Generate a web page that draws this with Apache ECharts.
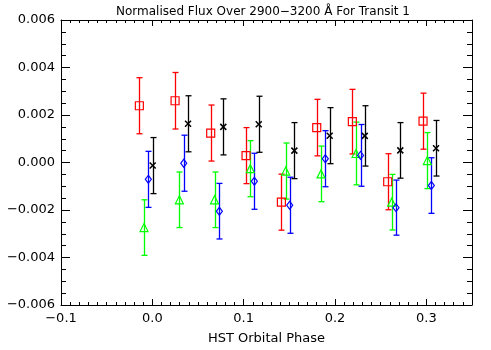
<!DOCTYPE html>
<html>
<head>
<meta charset="utf-8">
<script src="https://cdn.jsdelivr.net/npm/echarts@6/dist/echarts.min.js"></script>
<style>
    html, body { margin: 0; padding: 0; background: #fff; }
    #chart { width: 491px; height: 350px; }
</style>
</head>
<body>
<div id="chart"></div>
<script>
// transit 1 points
var phaseRed = [-0.0142, 0.0249, 0.0639, 0.1026, 0.1413, 0.1800, 0.2190, 0.2577, 0.2964];
var fluxRed = [0.00239, 0.00260, 0.00124, 0.00029, -0.00167, 0.00147, 0.00172, -0.00081, 0.00174];
var errRed = [0.00118, 0.00119, 0.00118, 0.00118, 0.00118, 0.00119, 0.00136, 0.00118, 0.00118];

var phaseGreen = [-0.0091, 0.0296, 0.0681, 0.1073, 0.1460, 0.1847, 0.2230, 0.2621, 0.3011];
var fluxGreen = [-0.00274, -0.00157, -0.00157, -0.00026, -0.00036, -0.00048, 0.00038, -0.00167, 0.00008];
var errGreen = [0.00117, 0.00117, 0.00117, 0.00118, 0.00118, 0.00117, 0.00132, 0.00117, 0.00118];

var phaseBlue = [-0.0044, 0.0344, 0.0734, 0.1117, 0.1504, 0.1894, 0.2280, 0.2668, 0.3055];
var fluxBlue = [-0.00071, -0.00003, -0.00205, -0.00079, -0.00180, 0.00016, 0.00030, -0.00190, -0.00097];
var errBlue = [0.00118, 0.00118, 0.00117, 0.00118, 0.00118, 0.00118, 0.00130, 0.00116, 0.00117];

var phaseBlack = [0.0004, 0.0391, 0.0777, 0.1165, 0.1555, 0.1942, 0.2326, 0.2715, 0.3106];
var fluxBlack = [-0.00013, 0.00163, 0.00150, 0.00161, 0.00050, 0.00113, 0.00112, 0.00051, 0.00060];
var errBlack = [0.00118, 0.00118, 0.00118, 0.00118, 0.00118, 0.00118, 0.00127, 0.00117, 0.00117];

var xTicks = [-0.1, 0.0, 0.1, 0.2, 0.3];
var yTicks = [-0.006, -0.004, -0.002, 0.000, 0.002, 0.004, 0.006];

var FONT = 'DejaVu Sans';

function zip(xs, ys, es) {
    var out = [];
    for (var i = 0; i < xs.length; i++) {
        out.push([xs[i], ys[i], es[i]]);
    }
    return out;
}

function fmtX(v) {
    for (var i = 0; i < xTicks.length; i++) {
        if (Math.abs(v - xTicks[i]) < 1e-6) {
            return xTicks[i].toFixed(1).replace('-', '\u2212');
        }
    }
    return '';
}

function fmtY(v) {
    for (var i = 0; i < yTicks.length; i++) {
        if (Math.abs(v - yTicks[i]) < 1e-7) {
            return yTicks[i].toFixed(3).replace('-', '\u2212');
        }
    }
    return '';
}

// vertical bar with small caps
function errorBars(color, data) {
    return {
        type: 'custom',
        xAxisIndex: 0,
        yAxisIndex: 0,
        data: data,
        z: 2,
        itemStyle: { color: color },
        renderItem: function (params, api) {
            var x = api.value(0), y = api.value(1), e = api.value(2);
            var lo = api.coord([x, y - e]);
            var hi = api.coord([x, y + e]);
            var cx = Math.round(lo[0]) + 0.5;
            var cap = 3;
            var style = { stroke: color, lineWidth: 1.3 };
            return {
                type: 'group',
                children: [
                    { type: 'line', shape: { x1: cx, y1: lo[1], x2: cx, y2: hi[1] }, style: style },
                    { type: 'line', shape: { x1: cx - cap, y1: lo[1], x2: cx + cap, y2: lo[1] }, style: style },
                    { type: 'line', shape: { x1: cx - cap, y1: hi[1], x2: cx + cap, y2: hi[1] }, style: style }
                ]
            };
        }
    };
}

function marks(color, data, symbol, size, width) {
    return {
        type: 'scatter',
        xAxisIndex: 0,
        yAxisIndex: 0,
        data: data,
        symbol: symbol,
        symbolSize: size,
        z: 3,
        itemStyle: { color: 'rgba(0,0,0,0)', borderColor: color, borderWidth: width, opacity: 1 },
        emphasis: { disabled: true }
    };
}

function xAxisOf(pos, interval, tickLen, showLabel, showLine) {
    return {
        type: 'value',
        position: pos,
        min: -0.1,
        max: 0.35,
        interval: interval,
        axisLine: { show: showLine, onZero: false, lineStyle: { color: '#000', width: 1 } },
        axisTick: { show: true, inside: true, length: tickLen, lineStyle: { color: '#000' } },
        axisLabel: { show: showLabel, formatter: fmtX, color: '#000', fontFamily: FONT, fontSize: 13, margin: 7 },
        splitLine: { show: false },
        name: showLabel ? 'HST Orbital Phase' : '',
        nameLocation: 'middle',
        nameGap: 27,
        nameTextStyle: { color: '#000', fontFamily: FONT, fontSize: 13 }
    };
}

function yAxisOf(pos, showLabel) {
    return {
        type: 'value',
        position: pos,
        min: -0.006,
        max: 0.006,
        interval: 0.002,
        axisLine: { show: true, onZero: false, lineStyle: { color: '#000', width: 1 } },
        axisTick: { show: true, inside: true, length: 9, lineStyle: { color: '#000' } },
        minorTick: { show: true, splitNumber: 4, length: 5, lineStyle: { color: '#000' } },
        axisLabel: { show: showLabel, formatter: fmtY, color: '#000', fontFamily: FONT, fontSize: 13, margin: 6 },
        splitLine: { show: false },
        minorSplitLine: { show: false }
    };
}

var cross = 'path://M0,0L10,10M10,0L0,10';

var myChart = echarts.init(document.getElementById('chart'), null, { renderer: 'canvas' });
var option = {
    animation: false,
    backgroundColor: '#fff',
    title: {
        text: 'Normalised Flux Over 2900\u22123200 \u00c5 For Transit 1',
        left: 258,
        top: 1,
        textAlign: 'center',
        textStyle: { color: '#000', fontFamily: FONT, fontSize: 12, fontWeight: 'normal' }
    },
    grid: { left: 61, right: 19, top: 20, bottom: 38, containLabel: false },
    xAxis: [
        xAxisOf('bottom', 0.1, 6, true, true),
        xAxisOf('bottom', 0.01, 3, false, false),
        xAxisOf('top', 0.1, 6, false, true),
        xAxisOf('top', 0.01, 3, false, false)
    ],
    yAxis: [
        yAxisOf('left', true),
        yAxisOf('right', false)
    ],
    series: [
        errorBars('#ff0000', zip(phaseRed, fluxRed, errRed)),
        errorBars('#00ff00', zip(phaseGreen, fluxGreen, errGreen)),
        errorBars('#0000ff', zip(phaseBlue, fluxBlue, errBlue)),
        errorBars('#000000', zip(phaseBlack, fluxBlack, errBlack)),
        marks('#ff0000', zip(phaseRed, fluxRed, errRed), 'rect', 8, 1.2),
        marks('#00ff00', zip(phaseGreen, fluxGreen, errGreen), 'triangle', 8, 1.2),
        marks('#0000ff', zip(phaseBlue, fluxBlue, errBlue), 'diamond', [6, 8], 1.2),
        marks('#000000', zip(phaseBlack, fluxBlack, errBlack), cross, 6, 1.5)
    ]
};
if (option && typeof option === 'object') {
    myChart.setOption(option, true);
}
</script>
</body>
</html>
